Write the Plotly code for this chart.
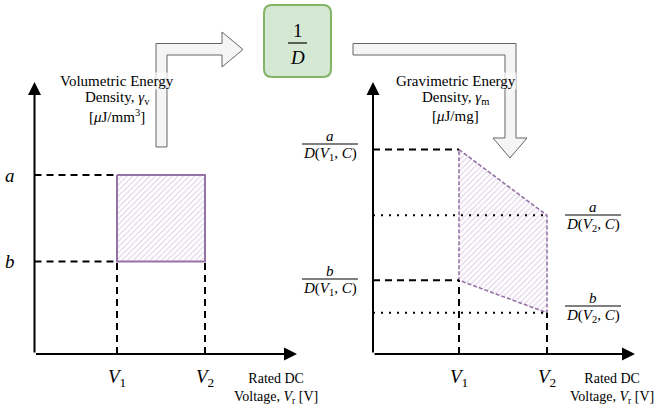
import plotly.graph_objects as go

W, H = 656, 411

# ---------------- data ----------------
V = [1, 2]                                   # V1, V2
V_labels = ["<i>V</i><sub>1</sub>", "<i>V</i><sub>2</sub>"]
vol_levels = [2.0, 1.0]                      # a, b  (volumetric energy density bounds)
vol_labels = ["<i>a</i>", "<i>b</i>"]
grav_upper = [2.33, 1.58]                    # a/D(V1,C), a/D(V2,C)
grav_lower = [0.84, 0.47]                    # b/D(V1,C), b/D(V2,C)
grav_num = ["<i>a</i>", "<i>b</i>"]
grav_den = ["<i>D</i>(<i>V</i><sub>1</sub>, <i>C</i>)", "<i>D</i>(<i>V</i><sub>2</sub>, <i>C</i>)"]

# axis ranges (abstract units)
xr1 = [0.0625, 3.045]; yr1 = [-0.069, 3.075]
xr2 = [0.0227, 3.0];   yr2 = [0.0, 3.1]

FONT = "Liberation Serif, DejaVu Serif, serif"
PURPLE = "#9673a6"
HATCH = dict(shape="/", fgcolor="#c4acd4", bgcolor="rgba(255,255,255,0)", size=4, solidity=0.3)
DASH = "7px,5px"
DOT = "2px,6px"


def px(x):
    return x / W


def py(y):
    return (H - y) / H


def path(pts):
    s = "M %f,%f " % (px(pts[0][0]), py(pts[0][1]))
    for p in pts[1:]:
        s += "L %f,%f " % (px(p[0]), py(p[1]))
    return s + "Z"


fig = go.Figure()

# ---------------- left panel (volumetric) ----------------
a, b = vol_levels
fig.add_trace(go.Scatter(x=[V[0], V[1], V[1], V[0], V[0]], y=[a, a, b, b, a],
                         mode="lines", fill="toself", fillpattern=HATCH, fillcolor="rgba(0,0,0,0)",
                         line=dict(color=PURPLE, width=2), xaxis="x", yaxis="y", hoverinfo="skip"))
for lvl in vol_levels:
    fig.add_trace(go.Scatter(x=[xr1[0], V[0]], y=[lvl, lvl], mode="lines",
                             line=dict(color="black", width=2, dash=DASH), xaxis="x", yaxis="y"))
for v in V:
    fig.add_trace(go.Scatter(x=[v, v], y=[yr1[0], b], mode="lines",
                             line=dict(color="black", width=2, dash=DASH), xaxis="x", yaxis="y"))

# ---------------- right panel (gravimetric) ----------------
fig.add_trace(go.Scatter(x=[V[0], V[1], V[1], V[0], V[0]],
                         y=[grav_upper[0], grav_upper[1], grav_lower[1], grav_lower[0], grav_upper[0]],
                         mode="lines", fill="toself", fillpattern=HATCH, fillcolor="rgba(0,0,0,0)",
                         line=dict(color=PURPLE, width=1.6, dash="4px,2px"), xaxis="x2", yaxis="y2",
                         hoverinfo="skip"))
for lvl in [grav_upper[0], grav_lower[0]]:
    fig.add_trace(go.Scatter(x=[xr2[0], V[0]], y=[lvl, lvl], mode="lines",
                             line=dict(color="black", width=2, dash=DASH), xaxis="x2", yaxis="y2"))
for lvl in [grav_upper[1], grav_lower[1]]:
    fig.add_trace(go.Scatter(x=[xr2[0], V[1]], y=[lvl, lvl], mode="lines",
                             line=dict(color="black", width=2, dash=DOT), xaxis="x2", yaxis="y2"))
fig.add_trace(go.Scatter(x=[V[0], V[0]], y=[yr2[0], grav_lower[0]], mode="lines",
                         line=dict(color="black", width=2, dash=DASH), xaxis="x2", yaxis="y2"))
fig.add_trace(go.Scatter(x=[V[1], V[1]], y=[yr2[0], grav_lower[1]], mode="lines",
                         line=dict(color="black", width=2, dash=DASH), xaxis="x2", yaxis="y2"))

ann = []
# axis arrows
for xa, ya, xr, yr in [("x", "y", xr1, yr1), ("x2", "y2", xr2, yr2)]:
    ann.append(dict(x=xr[0], y=yr[1], ax=xr[0], ay=yr[0], xref=xa, yref=ya, axref=xa, ayref=ya,
                    showarrow=True, arrowhead=2, arrowsize=1.3, arrowwidth=2, arrowcolor="black",
                    text="", standoff=0))
    ann.append(dict(x=xr[1], y=yr[0], ax=xr[0], ay=yr[0], xref=xa, yref=ya, axref=xa, ayref=ya,
                    showarrow=True, arrowhead=2, arrowsize=1.3, arrowwidth=2, arrowcolor="black",
                    text="", standoff=0))

# V tick labels
for xa in ["x", "x2"]:
    for v, lab in zip(V, V_labels):
        ann.append(dict(x=v, y=py(378), xref=xa, yref="paper", text=lab, showarrow=False,
                        font=dict(family=FONT, size=19, color="black"), xanchor="center", yanchor="middle"))

# a, b labels (left)
for lvl, lab in zip(vol_levels, vol_labels):
    ann.append(dict(x=px(10), y=lvl, xref="paper", yref="y", text=lab, showarrow=False,
                    font=dict(family=FONT, size=19, color="black"), xanchor="center", yanchor="middle"))

# fraction labels (right)
shapes = []
frac_pos = [  # (center x px, line y px, numerator, denominator)
    (330, 144, grav_num[0], grav_den[0]),
    (330, 279, grav_num[1], grav_den[0]),
    (593, 215, grav_num[0], grav_den[1]),
    (593, 306, grav_num[1], grav_den[1]),
]
for cx, ly, num, den in frac_pos:
    ann.append(dict(x=px(cx), y=py(ly - 8), xref="paper", yref="paper", text=num, showarrow=False,
                    font=dict(family=FONT, size=15, color="black"), xanchor="center", yanchor="middle"))
    ann.append(dict(x=px(cx), y=py(ly + 10), xref="paper", yref="paper", text=den, showarrow=False,
                    font=dict(family=FONT, size=15, color="black"), xanchor="center", yanchor="middle"))
    shapes.append(dict(type="line", xref="paper", yref="paper", x0=px(cx - 28), x1=px(cx + 28),
                       y0=py(ly), y1=py(ly), line=dict(color="black", width=1)))

# axis titles
for cx in [276, 612]:
    ann.append(dict(x=px(cx), y=py(388), xref="paper", yref="paper",
                    text="Rated DC<br>Voltage, <i>V</i><sub>r</sub> [V]", showarrow=False,
                    font=dict(family=FONT, size=14, color="black"), xanchor="center", yanchor="middle"))

for cx, l1, l2, l3 in [(117, "Volumetric Energy", "Density, <i>γ</i><sub>v</sub>", "[<i>μ</i>J/mm<sup>3</sup>]"),
                       (456, "Gravimetric Energy", "Density, <i>γ</i><sub>m</sub>", "[<i>μ</i>J/mg]")]:
    for yy, txt, bg in [(81, l1, True), (98, l2, True), (116, l3, False)]:
        d = dict(x=px(cx), y=py(yy), xref="paper", yref="paper", text=txt, showarrow=False,
                 font=dict(family=FONT, size=15, color="black"), xanchor="center", yanchor="middle",
                 borderpad=0)
        if bg:
            d["bgcolor"] = "rgba(255,255,255,0.7)"
        ann.append(d)

# 1/D box
x0, x1, y0, y1, r = 264, 331, 5, 77, 8
box = ("M %f,%f L %f,%f Q %f,%f %f,%f L %f,%f Q %f,%f %f,%f L %f,%f Q %f,%f %f,%f L %f,%f Q %f,%f %f,%f Z" % (
    px(x0 + r), py(y0), px(x1 - r), py(y0), px(x1), py(y0), px(x1), py(y0 + r),
    px(x1), py(y1 - r), px(x1), py(y1), px(x1 - r), py(y1),
    px(x0 + r), py(y1), px(x0), py(y1), px(x0), py(y1 - r),
    px(x0), py(y0 + r), px(x0), py(y0), px(x0 + r), py(y0)))
shapes.append(dict(type="path", xref="paper", yref="paper", path=box, fillcolor="#d5e8d4",
                   line=dict(color="#82b366", width=2), layer="below"))
shapes.append(dict(type="line", xref="paper", yref="paper", x0=px(288), x1=px(307), y0=py(43), y1=py(43),
                   line=dict(color="black", width=1.2)))
ann.append(dict(x=px(297.5), y=py(30), xref="paper", yref="paper", text="1", showarrow=False,
                font=dict(family=FONT, size=19, color="black"), xanchor="center", yanchor="middle"))
ann.append(dict(x=px(297.5), y=py(57), xref="paper", yref="paper", text="<i>D</i>", showarrow=False,
                font=dict(family=FONT, size=19, color="black"), xanchor="center", yanchor="middle"))

# block arrows
arrow1 = [(156, 147), (167, 147), (167, 55), (222, 55), (222, 67), (243, 49.5), (222, 32), (222, 43.5), (156, 43.5)]
arrow2 = [(353, 43.5), (516, 43.5), (516, 138), (527, 138), (510, 158), (493, 138), (505, 138), (505, 55), (353, 55)]
for pts in [arrow1, arrow2]:
    shapes.append(dict(type="path", xref="paper", yref="paper", path=path(pts), fillcolor="#f5f5f5",
                       line=dict(color="#666666", width=1), layer="below"))

ydom = [py(354), py(82)]
fig.update_layout(
    width=W, height=H, margin=dict(l=0, r=0, t=0, b=0),
    paper_bgcolor="white", plot_bgcolor="rgba(0,0,0,0)", showlegend=False,
    xaxis=dict(domain=[px(34.5), px(297)], range=xr1, visible=False, fixedrange=True),
    yaxis=dict(domain=ydom, range=yr1, visible=False, fixedrange=True),
    xaxis2=dict(domain=[px(373), px(635)], range=xr2, visible=False, fixedrange=True, anchor="y2"),
    yaxis2=dict(domain=ydom, range=yr2, visible=False, fixedrange=True, anchor="x2"),
    annotations=ann, shapes=shapes,
)
fig.write_html("out.html")
